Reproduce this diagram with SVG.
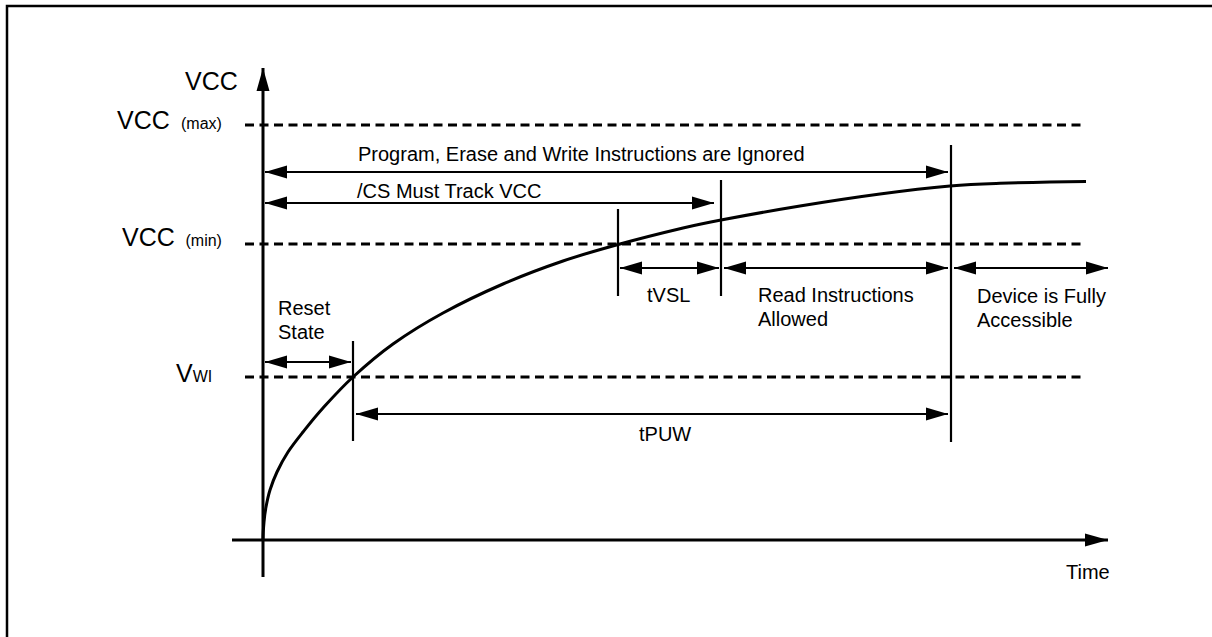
<svg xmlns="http://www.w3.org/2000/svg" width="1212" height="637" viewBox="0 0 1212 637">
<defs>
<style>
text{font-family:"Liberation Sans",Arial,Helvetica,sans-serif;fill:#000}
.lbl{font-size:20px}
.big{font-size:25px}
.sub{font-size:16px}
.dash{stroke:#000;stroke-width:3;stroke-dasharray:9 5.5;fill:none}
.axis{stroke:#000;stroke-width:3;fill:none}
.tick{stroke:#000;stroke-width:2.2;fill:none}
.arr{stroke:#000;stroke-width:1.8;fill:none;marker-start:url(#ah);marker-end:url(#ah)}
</style>
<marker id="ah" markerUnits="userSpaceOnUse" markerWidth="22" markerHeight="14" viewBox="0 0 22 14" refX="22" refY="7" orient="auto-start-reverse">
<path d="M0,0.5 L22,7 L0,13.5 Z" fill="#000"/>
</marker>
<marker id="axh" markerUnits="userSpaceOnUse" markerWidth="23" markerHeight="14" viewBox="0 0 23 14" refX="23" refY="7" orient="auto">
<path d="M0,0.5 L23,7 L0,13.5 Z" fill="#000"/>
</marker>
</defs>
<path d="M7,645 V6 H1220" fill="none" stroke="#000" stroke-width="2.5"/>
<g id="axes">
<line class="axis" x1="263" y1="577" x2="263" y2="68" marker-end="url(#axh)"/>
<line class="axis" x1="232" y1="540" x2="1108" y2="540" marker-end="url(#axh)"/>
</g>
<g id="levels">
<line class="dash" x1="245" y1="125" x2="1085" y2="125"/>
<line class="dash" x1="245" y1="244" x2="1085" y2="244"/>
<line class="dash" x1="245" y1="377" x2="1085" y2="377"/>
</g>
<g id="curve">
<path d="M263,540 C263,534 263.5,527.5 264,522 C264.5,516.5 265,512.33 266,507 C267,501.67 268.17,495.83 270,490 C271.83,484.17 274,478.33 277,472 C280,465.67 283.67,458.67 288,452 C292.33,445.33 297.17,439.33 303,432 C308.83,424.67 314.67,417.17 323,408 C331.33,398.83 341.33,387.67 353,377 C364.67,366.33 378,354.67 393,344 C408,333.33 424.67,323 443,313 C461.33,303 483,292.67 503,284 C523,275.33 543.5,267.67 563,261 C582.5,254.33 600,249.5 620,244 C640,238.5 666.17,232 683,228 C699.83,224 701.5,223.67 721,220 C740.5,216.33 773.5,210.33 800,206 C826.5,201.67 855,197.33 880,194 C905,190.67 930,187.78 950,186 C970,184.22 977.33,184.05 1000,183.3 C1022.67,182.55 1058,181.8 1086,181.5" fill="none" stroke="#000" stroke-width="3"/>
</g>
<g id="connectors">
<line class="tick" x1="353" y1="341" x2="353" y2="441"/>
<line class="tick" x1="618" y1="209" x2="618" y2="296"/>
<line class="tick" x1="721" y1="180" x2="721" y2="296"/>
<line class="tick" x1="951" y1="145" x2="951" y2="442"/>
<line class="arr" x1="265" y1="172" x2="948" y2="172"/>
<line class="arr" x1="265" y1="203" x2="714" y2="203"/>
<line class="arr" x1="620" y1="268" x2="719" y2="268"/>
<line class="arr" x1="724" y1="268" x2="948" y2="268"/>
<line class="arr" x1="954" y1="268" x2="1108" y2="268"/>
<line class="arr" x1="265" y1="362" x2="351" y2="362"/>
<line class="arr" x1="356" y1="414" x2="948" y2="414"/>
</g>
<g id="axis-labels">
<text class="big" x="185" y="90">VCC</text>
<text x="117" y="129"><tspan class="big">VCC</tspan><tspan class="sub" x="181">(max)</tspan></text>
<text x="122" y="246"><tspan class="big">VCC</tspan><tspan class="sub" x="185.5">(min)</tspan></text>
<text x="176" y="382"><tspan class="big" font-size="24">V</tspan><tspan class="sub">WI</tspan></text>
<text class="lbl" x="1066" y="579">Time</text>
</g>
<g id="labels">
<text class="lbl" x="358" y="161">Program, Erase and Write Instructions are Ignored</text>
<text class="lbl" x="357" y="198">/CS Must Track VCC</text>
<text class="lbl" x="278" y="315">Reset</text>
<text class="lbl" x="278" y="339">State</text>
<text class="lbl" x="647" y="302">tVSL</text>
<text class="lbl" x="758" y="302">Read Instructions</text>
<text class="lbl" x="758" y="326">Allowed</text>
<text class="lbl" x="977" y="303">Device is Fully</text>
<text class="lbl" x="977" y="327">Accessible</text>
<text class="lbl" x="639" y="441">tPUW</text>
</g>
</svg>
